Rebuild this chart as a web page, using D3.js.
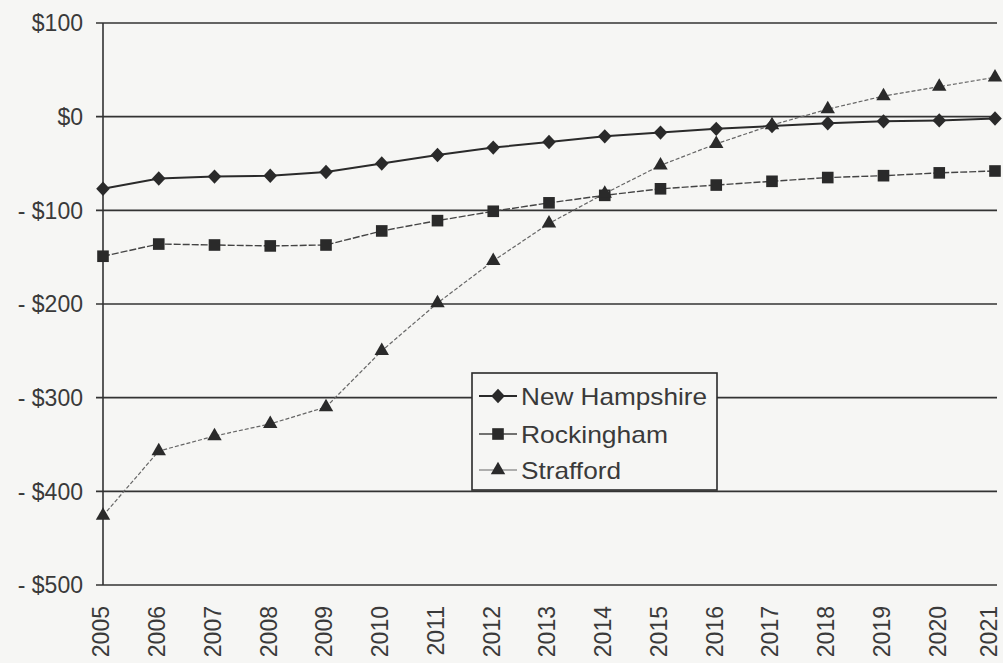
<!DOCTYPE html>
<html>
<head>
<meta charset="utf-8">
<script src="https://cdn.jsdelivr.net/npm/d3@7"></script>
<style>
  html, body { margin: 0; padding: 0; background: #f6f6f4; }
  svg { display: block; }
  text { font-family: "Liberation Sans", Arial, sans-serif; fill: #3a3a3a; }
</style>
</head>
<body>
<svg id="chart" width="1003" height="663"></svg>
<script>
const years = [2005,2006,2007,2008,2009,2010,2011,2012,2013,2014,2015,2016,2017,2018,2019,2020,2021];
const newHampshire = [-77,-66,-64,-63,-59,-50,-41,-33,-27,-21,-17,-13,-10,-7,-5,-4,-2];
const rockingham   = [-149,-136,-137,-138,-137,-122,-111,-101,-92,-84,-77,-73,-69,-65,-63,-60,-58];
const strafford    = [-426,-357,-341,-328,-310,-250,-199,-154,-114,-82,-52,-29,-9,8,22,32,42];
const yTicks = [100,0,-100,-200,-300,-400,-500];
const seriesNames = ["New Hampshire","Rockingham","Strafford"];

const svg = d3.select("#chart");
const x = d3.scaleLinear().domain([2005, 2021]).range([103, 995]);
const y = d3.scaleLinear().domain([-500, 100]).range([585, 23]);

const fmt = v => v < 0 ? "- $" + Math.abs(v) : "$" + v;

// gridlines
svg.append("g").selectAll("line").data(yTicks).join("line")
  .attr("x1", 96).attr("x2", 997)
  .attr("y1", d => y(d)).attr("y2", d => y(d))
  .attr("stroke", "#333").attr("stroke-width", 1.6);

// y axis line
svg.append("line").attr("x1", x(2005)).attr("x2", x(2005))
  .attr("y1", y(100)).attr("y2", y(-500))
  .attr("stroke", "#333").attr("stroke-width", 1.6);

// y labels
svg.append("g").selectAll("text").data(yTicks).join("text")
  .attr("x", 83).attr("y", d => y(d)).attr("dy", "0.36em")
  .attr("text-anchor", "end").attr("font-size", 23)
  .text(fmt);

// x labels
svg.append("g").selectAll("text").data(years).join("text")
  .attr("transform", d => `translate(${Math.min(x(d) - 2, 989)},606) rotate(-90)`)
  .attr("dy", "0.36em").attr("text-anchor", "end").attr("font-size", 23)
  .text(d => d);

const line = d3.line().x((d, i) => x(years[i])).y(d => y(d));

const diamond = { draw(ctx, size) { const w = 6.8, h = 7.2; ctx.moveTo(0, -h); ctx.lineTo(w, 0); ctx.lineTo(0, h); ctx.lineTo(-w, 0); ctx.closePath(); } };

const styles = [
  { data: newHampshire, stroke: "#2a2a2a", width: 2, dash: null, shape: diamond, size: 100 },
  { data: rockingham, stroke: "#444", width: 1.4, dash: "7,2", shape: d3.symbolSquare, size: 135 },
  { data: strafford, stroke: "#666", width: 1.2, dash: "4,2", shape: d3.symbolTriangle, size: 90 }
];

styles.forEach(s => {
  svg.append("path").datum(s.data).attr("d", line)
    .attr("fill", "none").attr("stroke", s.stroke)
    .attr("stroke-width", s.width).attr("stroke-dasharray", s.dash);
  svg.append("g").selectAll("path").data(s.data).join("path")
    .attr("transform", (d, i) => `translate(${x(years[i])},${y(d)})`)
    .attr("d", d3.symbol().type(s.shape).size(s.size))
    .attr("fill", "#2a2a2a");
});

// legend
const lg = svg.append("g");
lg.append("rect").attr("x", 472).attr("y", 373).attr("width", 245).attr("height", 117)
  .attr("fill", "#f6f6f4").attr("stroke", "#2a2a2a").attr("stroke-width", 1.6);
const ly = [396, 434, 470];
const lw = [186, 147, 100];
seriesNames.forEach((n, i) => {
  const s = styles[i];
  lg.append("line").attr("x1", 479).attr("x2", 517).attr("y1", ly[i]).attr("y2", ly[i])
    .attr("stroke", s.stroke).attr("stroke-width", s.width);
  lg.append("path").attr("transform", `translate(498,${ly[i]})`)
    .attr("d", d3.symbol().type(s.shape).size(s.size)).attr("fill", "#2a2a2a");
  lg.append("text").attr("x", 521).attr("y", ly[i]).attr("dy", "0.36em")
    .attr("font-size", 24).attr("textLength", lw[i]).attr("lengthAdjust", "spacingAndGlyphs")
    .text(n);
});
</script>
</body>
</html>
